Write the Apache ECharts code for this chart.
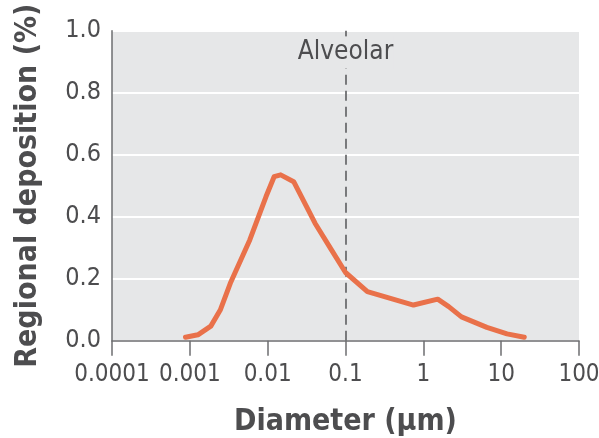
<!DOCTYPE html>
<html>
<head>
<meta charset="utf-8">
<script src="https://cdn.jsdelivr.net/npm/echarts@6/dist/echarts.min.js"></script>
<style>
  html, body { margin: 0; padding: 0; background: #ffffff; }
  #chart { width: 599px; height: 438px; }
</style>
</head>
<body>
<div id="chart"></div>
<script>
// Particle diameter (µm) and regional deposition fraction along the curve
const diameters = [0.00088, 0.00127, 0.00186, 0.00246, 0.00331, 0.00589, 0.00953,
                   0.0121, 0.0147, 0.0216, 0.0406, 0.066, 0.1, 0.191, 0.747,
                   1.53, 2.12, 3.09, 6.55, 11.9, 19.8];
const deposition = [0.011, 0.019, 0.047, 0.099, 0.185, 0.325, 0.465,
                    0.529, 0.535, 0.513, 0.379, 0.293, 0.22, 0.158, 0.115,
                    0.134, 0.11, 0.077, 0.043, 0.022, 0.011];

// Region boundary marker
const regionBoundary = 0.1;
const regionName = 'Alveolar';
const regionLabelLevel = 0.93;

const xTickMin = 0.0001, xTickMax = 100;
const yTicks = [0, 0.2, 0.4, 0.6, 0.8, 1.0];

const FONT = '"DejaVu Sans Condensed", "Liberation Sans", sans-serif';
const TEXT = '#4d4d4f';
const AXIS = '#6d6e70';

const chart = echarts.init(document.getElementById('chart'), null, { renderer: 'canvas' });

chart.setOption({
  animation: false,
  backgroundColor: '#ffffff',
  grid: {
    left: 112, right: 20, top: 30.7, bottom: 97.3,
    containLabel: false,
    outerBoundsMode: 'none',
    show: true, backgroundColor: '#e6e7e8', borderWidth: 0
  },
  xAxis: {
    type: 'log',
    logBase: 10,
    min: xTickMin,
    max: xTickMax,
    splitNumber: 6,
    name: 'Diameter (\u00b5m)',
    nameLocation: 'middle',
    nameGap: 67,
    nameTextStyle: { fontFamily: FONT, fontWeight: 'bold', fontSize: 30, color: TEXT },
    axisLine: { show: true, onZero: false, lineStyle: { color: AXIS, width: 1.5 } },
    axisTick: { show: true, inside: false, length: 15, lineStyle: { color: AXIS, width: 1.5 } },
    axisLabel: {
      fontFamily: FONT, fontSize: 24, color: TEXT, margin: 22,
      showMinLabel: true, showMaxLabel: true, hideOverlap: false,
      formatter: v => {
        const e = Math.round(Math.log10(v));
        return e < 0 ? v.toFixed(-e) : String(Math.round(v));
      }
    },
    splitLine: { show: false },
    minorTick: { show: false }
  },
  yAxis: {
    type: 'value',
    min: yTicks[0],
    max: yTicks[yTicks.length - 1],
    interval: 0.2,
    name: 'Regional deposition (%)',
    nameLocation: 'middle',
    nameGap: 69,
    nameRotate: 90,
    nameTextStyle: { fontFamily: FONT, fontWeight: 'bold', fontSize: 30, color: TEXT },
    axisLine: { show: true, lineStyle: { color: AXIS, width: 1.5 } },
    axisTick: { show: false },
    axisLabel: {
      fontFamily: FONT, fontSize: 25, color: TEXT, margin: 11,
      formatter: v => v.toFixed(1)
    },
    splitLine: { show: true, lineStyle: { color: '#ffffff', width: 2 } }
  },
  series: [{
    type: 'line',
    data: diameters.map((d, i) => [d, deposition[i]]),
    showSymbol: false,
    smooth: false,
    lineStyle: { color: '#e9714a', width: 5, cap: 'round', join: 'round' },
    itemStyle: { color: '#e9714a' },
    z: 3,
    markLine: {
      silent: true,
      symbol: ['none', 'none'],
      label: { show: false },
      lineStyle: { color: '#6d6e70', type: [10, 6], width: 1.8 },
      data: [{ xAxis: regionBoundary }],
      z: 2
    },
    markPoint: {
      silent: true,
      symbol: 'rect',
      symbolSize: 0,
      data: [{ coord: [regionBoundary, regionLabelLevel], value: regionName }],
      label: {
        show: true,
        position: 'inside',
        formatter: regionName,
        fontFamily: FONT, fontSize: 26, color: TEXT,
        backgroundColor: '#e6e7e8',
        padding: [3, 0, 3, 0]
      },
      z: 4
    }
  }]
});
</script>
</body>
</html>
